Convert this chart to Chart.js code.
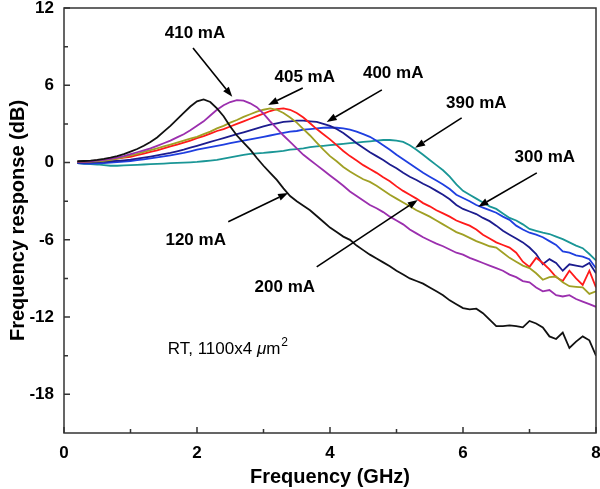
<!DOCTYPE html>
<html><head><meta charset="utf-8">
<script src="https://cdn.jsdelivr.net/npm/chart.js@4.4.0/dist/chart.umd.min.js"></script>
<style>html,body{margin:0;padding:0;background:#fff}#wrap{width:600px;height:489px}</style>
</head><body><div id="wrap"><canvas id="c" width="600" height="489"></canvas></div>
<script>
// ---- data (frequency in GHz, response in dB) ----
const freqs = [
 0.2,0.3,0.4,0.5,0.6,0.7,0.8,0.9,1.0,1.1,
 1.2,1.3,1.4,1.5,1.6,1.7,1.8,1.9,2.0,2.1,
 2.2,2.3,2.4,2.5,2.6,2.7,2.8,2.9,3.0,3.1,
 3.2,3.3,3.4,3.5,3.6,3.7,3.8,3.9,4.0,4.1,
 4.2,4.3,4.4,4.5,4.6,4.7,4.8,4.9,5.0,5.1,
 5.2,5.3,5.4,5.5,5.6,5.7,5.8,5.9,6.0,6.1,
 6.2,6.3,6.4,6.5,6.6,6.7,6.8,6.9,7.0,7.1,
 7.2,7.3,7.4,7.5,7.6,7.7,7.8,7.9,8.0];
const seriesNames = ['120 mA','200 mA','300 mA','390 mA','400 mA','405 mA','410 mA'];
const r120 = [
 0.1,0.12,0.15,0.2,0.28,0.38,0.5,0.65,0.85,1.05,
 1.3,1.6,1.95,2.4,2.85,3.35,3.85,4.35,4.75,4.9,
 4.7,4.2,3.6,2.8,2.1,1.55,1.0,0.35,-0.25,-0.8,
 -1.35,-2.0,-2.6,-3.0,-3.35,-3.7,-4.15,-4.6,-5.05,-5.4,
 -5.75,-6.0,-6.45,-6.8,-7.15,-7.45,-7.75,-8.05,-8.4,-8.7,
 -9.0,-9.2,-9.4,-9.7,-10.0,-10.3,-10.7,-11.0,-11.3,-11.4,
 -11.35,-11.7,-12.2,-12.7,-12.7,-12.65,-12.7,-12.8,-12.3,-12.5,
 -12.8,-13.5,-13.7,-13.2,-14.4,-13.9,-13.5,-13.8,-15.0];
const r200 = [
 0.05,0.08,0.1,0.15,0.2,0.28,0.38,0.5,0.65,0.8,
 0.95,1.1,1.3,1.5,1.7,1.95,2.2,2.5,2.85,3.2,
 3.65,4.1,4.45,4.7,4.85,4.8,4.6,4.3,3.8,3.2,
 2.65,2.1,1.6,1.1,0.6,0.2,-0.2,-0.6,-1.0,-1.4,
 -1.8,-2.25,-2.6,-2.95,-3.3,-3.55,-3.85,-4.2,-4.5,-4.8,
 -5.2,-5.5,-5.8,-6.05,-6.3,-6.5,-6.75,-7.0,-7.15,-7.4,
 -7.6,-7.8,-8.0,-8.2,-8.4,-8.7,-8.9,-9.2,-9.3,-9.7,
 -10.0,-9.9,-10.3,-10.4,-10.3,-10.6,-10.8,-11.0,-11.2];
const r300 = [
 0.05,0.07,0.08,0.1,0.13,0.2,0.3,0.42,0.55,0.68,
 0.82,0.96,1.1,1.25,1.4,1.55,1.7,1.85,2.0,2.2,
 2.4,2.65,2.85,3.1,3.3,3.55,3.75,3.95,4.1,4.2,
 4.1,3.85,3.5,3.1,2.6,2.1,1.55,1.0,0.5,0.1,
 -0.35,-0.7,-1.0,-1.3,-1.5,-1.8,-2.15,-2.5,-2.8,-3.1,
 -3.4,-3.7,-3.95,-4.2,-4.5,-4.8,-5.1,-5.4,-5.6,-5.85,
 -6.1,-6.3,-6.5,-6.6,-7.0,-7.4,-7.7,-8.0,-8.2,-8.6,
 -9.1,-8.9,-8.85,-9.3,-9.6,-9.65,-9.7,-10.2,-10.0];
const r390 = [
 0.05,0.08,0.1,0.15,0.2,0.25,0.3,0.38,0.45,0.58,
 0.7,0.82,0.95,1.1,1.25,1.4,1.55,1.7,1.9,2.05,
 2.25,2.45,2.6,2.8,3.0,3.2,3.4,3.6,3.8,4.0,
 4.15,4.2,4.1,3.85,3.5,3.05,2.6,2.2,1.8,1.35,
 0.9,0.5,0.15,-0.2,-0.5,-0.8,-1.15,-1.45,-1.85,-2.2,
 -2.5,-2.8,-3.15,-3.4,-3.7,-3.95,-4.2,-4.5,-4.7,-4.9,
 -5.2,-5.6,-5.9,-6.2,-6.4,-6.6,-7.0,-7.7,-8.1,-7.4,
 -7.8,-8.3,-8.9,-9.2,-8.4,-9.0,-9.5,-8.4,-9.7];
const r400 = [
 0.0,0.0,0.02,0.04,0.06,0.1,0.13,0.17,0.22,0.3,
 0.38,0.46,0.55,0.65,0.75,0.87,1.0,1.15,1.3,1.45,
 1.6,1.75,1.9,2.05,2.2,2.35,2.5,2.65,2.8,2.95,
 3.05,3.15,3.2,3.25,3.25,3.2,3.15,3.0,2.85,2.6,
 2.3,1.9,1.5,1.15,0.8,0.5,0.2,-0.15,-0.45,-0.8,
 -1.1,-1.35,-1.65,-1.9,-2.2,-2.5,-2.85,-3.3,-3.6,-3.8,
 -4.0,-4.3,-4.55,-4.9,-5.3,-5.6,-5.9,-6.2,-6.6,-7.1,
 -7.9,-7.5,-7.8,-8.4,-7.9,-8.0,-8.1,-7.8,-8.6];
const r405 = [
 -0.05,-0.08,-0.08,-0.06,-0.04,0.0,0.03,0.07,0.12,0.18,
 0.25,0.32,0.4,0.48,0.56,0.65,0.75,0.87,1.0,1.1,
 1.2,1.3,1.4,1.5,1.6,1.7,1.8,1.9,2.0,2.1,
 2.2,2.3,2.4,2.45,2.55,2.6,2.65,2.7,2.72,2.7,
 2.65,2.55,2.4,2.2,2.0,1.7,1.35,1.0,0.6,0.25,
 -0.1,-0.45,-0.8,-1.1,-1.4,-1.7,-2.05,-2.5,-2.75,-3.0,
 -3.3,-3.5,-3.7,-3.9,-4.2,-4.45,-4.9,-5.2,-5.45,-5.6,
 -5.8,-6.1,-6.4,-6.9,-7.0,-7.2,-7.3,-7.5,-8.2];
const r410 = [
 -0.05,-0.1,-0.12,-0.15,-0.2,-0.25,-0.25,-0.22,-0.2,-0.18,
 -0.15,-0.12,-0.1,-0.08,-0.05,-0.03,0.0,0.02,0.05,0.1,
 0.15,0.2,0.3,0.4,0.5,0.6,0.68,0.72,0.75,0.8,
 0.85,0.9,1.0,1.05,1.1,1.2,1.25,1.3,1.35,1.4,
 1.45,1.5,1.55,1.6,1.65,1.7,1.75,1.75,1.7,1.6,
 1.35,1.0,0.6,0.2,-0.2,-0.6,-1.1,-1.7,-2.2,-2.5,
 -2.8,-3.1,-3.4,-3.6,-3.95,-4.3,-4.5,-4.8,-5.15,-5.3,
 -5.45,-5.55,-5.75,-5.95,-6.2,-6.45,-6.65,-7.1,-7.6];
const seriesValues = [r120, r200, r300, r390, r400, r405, r410];
const seriesColors = ['#111111','#9b2fae','#a0a024','#ff1a1a','#1c1c8e','#1f3fe0','#1a9696'];

// ---- axes ----
const xTicks = [0, 2, 4, 6, 8];
const xMinorTicks = [1, 3, 5, 7];
const yTicks = [-18, -12, -6, 0, 6, 12];
const yMinorTicks = [-15, -9, -3, 3, 9];
const xRange = [0, 8];
const yRange = [-21, 12];
const xTitle = 'Frequency (GHz)';
const yTitle = 'Frequency response (dB)';

// ---- annotations (data coordinates) ----
const annLabels = ['410 mA','405 mA','400 mA','390 mA','300 mA','120 mA','200 mA'];
const annLabelX = [1.97, 3.62, 4.95, 6.2, 7.23, 1.98, 3.32];
const annLabelY = [10.05, 6.64, 6.95, 4.63, 0.44, -6.0, -9.65];
const arrowFromX = [1.94, 3.59, 4.78, 5.98, 7.11, 2.47, 3.8];
const arrowFromY = [8.9, 5.79, 5.64, 3.47, -0.8, -4.6, -8.1];
const arrowToX = [2.53, 3.07, 3.95, 5.28, 6.23, 3.37, 5.32];
const arrowToY = [5.1, 4.47, 3.15, 1.14, -3.43, -2.36, -2.9];
const noteParts = ['RT, 1100x4 ', '\u03bc', 'm', '2'];
const noteX = 1.56, noteY = -14.5;

const FAM = '"Liberation Sans", Arial, Helvetica, sans-serif';

const decor = {
  id: 'decor',
  afterDatasetsDraw(chart) {
    const {ctx, chartArea: a, scales: {x, y}} = chart;
    ctx.save();
    ctx.strokeStyle = '#333'; ctx.lineWidth = 1.5;
    ctx.strokeRect(a.left, a.top, a.right - a.left, a.bottom - a.top);
    ctx.beginPath();
    xTicks.forEach(v => { const p = x.getPixelForValue(v); ctx.moveTo(p, a.bottom); ctx.lineTo(p, a.bottom - 6); });
    xMinorTicks.forEach(v => { const p = x.getPixelForValue(v); ctx.moveTo(p, a.bottom); ctx.lineTo(p, a.bottom - 4); });
    yTicks.forEach(v => { const p = y.getPixelForValue(v); ctx.moveTo(a.left, p); ctx.lineTo(a.left + 6, p); });
    yMinorTicks.forEach(v => { const p = y.getPixelForValue(v); ctx.moveTo(a.left, p); ctx.lineTo(a.left + 4, p); });
    ctx.stroke();

    // arrows
    ctx.strokeStyle = '#000'; ctx.fillStyle = '#000'; ctx.lineWidth = 1.6;
    for (let i = 0; i < annLabels.length; i++) {
      const x1 = x.getPixelForValue(arrowFromX[i]), y1 = y.getPixelForValue(arrowFromY[i]);
      const x2 = x.getPixelForValue(arrowToX[i]), y2 = y.getPixelForValue(arrowToY[i]);
      const ang = Math.atan2(y2 - y1, x2 - x1);
      const hl = 10, hw = 3.6;
      const bx = x2 - hl * Math.cos(ang), by = y2 - hl * Math.sin(ang);
      ctx.beginPath(); ctx.moveTo(x1, y1); ctx.lineTo(bx, by); ctx.stroke();
      ctx.beginPath();
      ctx.moveTo(x2, y2);
      ctx.lineTo(bx + hw * Math.sin(ang), by - hw * Math.cos(ang));
      ctx.lineTo(bx - hw * Math.sin(ang), by + hw * Math.cos(ang));
      ctx.closePath(); ctx.fill();
    }
    // labels
    ctx.font = 'bold 17px ' + FAM;
    ctx.textAlign = 'center'; ctx.textBaseline = 'middle';
    for (let i = 0; i < annLabels.length; i++) {
      ctx.fillText(annLabels[i], x.getPixelForValue(annLabelX[i]), y.getPixelForValue(annLabelY[i]));
    }
    // note
    let px = x.getPixelForValue(noteX); const py = y.getPixelForValue(noteY);
    ctx.textAlign = 'left';
    ctx.font = '17px ' + FAM; ctx.fillText(noteParts[0], px, py); px += ctx.measureText(noteParts[0]).width;
    ctx.font = 'italic 17px ' + FAM; ctx.fillText(noteParts[1], px, py); px += ctx.measureText(noteParts[1]).width;
    ctx.font = '17px ' + FAM; ctx.fillText(noteParts[2], px, py); px += ctx.measureText(noteParts[2]).width + 1;
    ctx.font = '12px ' + FAM; ctx.fillText(noteParts[3], px, py - 7);
    ctx.restore();
  }
};

const zeroPad = s => { s.paddingTop = 0; s.paddingBottom = 0; s.paddingLeft = 0; s.paddingRight = 0; };

new Chart(document.getElementById('c'), {
  type: 'line',
  data: {
    datasets: seriesValues.map((vals, i) => ({
      label: seriesNames[i],
      data: freqs.map((f, j) => ({x: f, y: vals[j]})),
      borderColor: seriesColors[i],
      borderWidth: 1.8,
      pointRadius: 0,
      tension: 0,
      fill: false
    }))
  },
  options: {
    responsive: false,
    animation: false,
    devicePixelRatio: 1,
    layout: {padding: {top: 8, right: 4, left: 0, bottom: 0}},
    plugins: {legend: {display: false}, tooltip: {enabled: false}},
    scales: {
      x: {
        type: 'linear', min: xRange[0], max: xRange[1],
        afterBuildTicks: s => { s.ticks = xTicks.map(v => ({value: v})); },
        afterFit: s => { s.height = 56; zeroPad(s); },
        grid: {display: false, drawTicks: false},
        border: {display: false},
        ticks: {color: '#000', padding: 10, maxRotation: 0, autoSkip: false,
                font: {family: FAM, size: 17, weight: 'bold'}},
        title: {display: true, text: xTitle, color: '#000', padding: {top: 0, bottom: 0},
                font: {family: FAM, size: 20, weight: 'bold'}}
      },
      y: {
        type: 'linear', min: yRange[0], max: yRange[1],
        afterBuildTicks: s => { s.ticks = yTicks.map(v => ({value: v})); },
        afterFit: s => { s.width = 64; zeroPad(s); },
        grid: {display: false, drawTicks: false},
        border: {display: false},
        ticks: {color: '#000', padding: 10, autoSkip: false,
                font: {family: FAM, size: 17, weight: 'bold', lineHeight: 0.9}},
        title: {display: true, text: yTitle, color: '#000', padding: {top: 6, bottom: 0},
                font: {family: FAM, size: 20, weight: 'bold'}}
      }
    }
  },
  plugins: [decor]
});
</script>
</body></html>
